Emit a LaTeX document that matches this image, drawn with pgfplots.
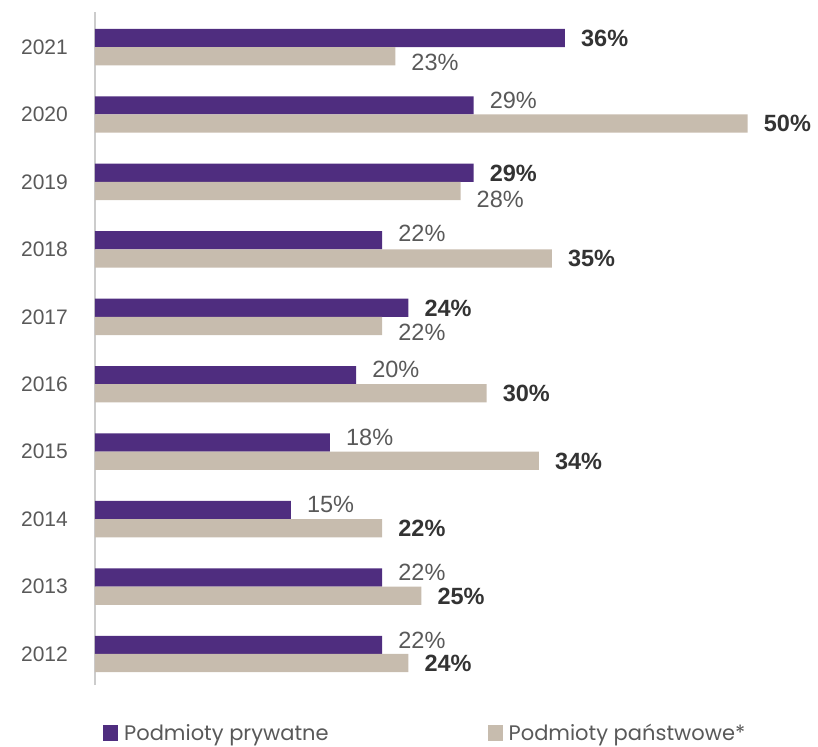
\documentclass[border=0pt]{standalone}
\usepackage{fontspec}
\setmainfont{Liberation Sans}
\newfontfamily\legfont{Poppins}
\usepackage{pgfplots}
\pgfplotsset{compat=1.18}
\definecolor{purp}{HTML}{4F2D7F}
\definecolor{beige}{HTML}{C7BCAE}
\definecolor{labl}{HTML}{595959}
\definecolor{labd}{HTML}{333333}
% light label, raised by #1
\newcommand\lb[2]{\smash{\raisebox{\dimexpr#1-0.36em\relax}{\textcolor{labl}{#2\%}}}}
% bold label
\newcommand\hb[1]{\smash{\raisebox{-0.36em}{\textcolor{labd}{\bfseries #1\%}}}}
\begin{document}
\begin{tikzpicture}
\begin{axis}[
  scale only axis,
  width=718bp, height=673bp,
  xmin=0, xmax=55,
  ymin=-0.46, ymax=9.52,
  axis y line*=left,
  axis x line=none,
  axis line style={draw=black!20, line width=1.3bp},
  ytick={0,1,2,3,4,5,6,7,8,9},
  yticklabels={2012,2013,2014,2015,2016,2017,2018,2019,2020,2021},
  major tick length=0pt,
  ytick style={draw=none},
  yticklabel style={font=\fontsize{21bp}{25bp}\selectfont, text=labl, anchor=east, inner sep=0pt, xshift=-27bp},
  clip=false,
  legend columns=2,
  legend style={at={(0,0)}, anchor=north west, xshift=8bp, yshift=-37bp, draw=none, fill=none,
    font=\legfont\fontsize{21bp}{25bp}\selectfont, text=labl, inner sep=0pt,
    /tikz/every odd column/.append style={column sep=4bp},
    /tikz/every even column/.append style={column sep=157bp}},
  legend cell align=left,
  nodes near coords,
  point meta=explicit symbolic,
]
\coordinate (O) at (rel axis cs:0,0);
\coordinate (T) at (rel axis cs:0,1);
\addplot[xbar, fill=purp, draw=none, bar width=0.27, bar shift=0.135,
  nodes near coords style={anchor=west, inner sep=0pt, xshift=16bp, yshift=9bp, font=\fontsize{23.5bp}{27bp}\selectfont},
  legend image code/.code={\fill[purp] (0bp,-8bp) rectangle (15bp,8bp);}]
coordinates {
 (36,9) [\hb{36}]
 (29,8) [\lb{5bp}{29}]
 (29,7) [\hb{29}]
 (22,6) [\lb{7bp}{22}]
 (24,5) [\hb{24}]
 (20,4) [\lb{6bp}{20}]
 (18,3) [\lb{6bp}{18}]
 (15,2) [\lb{6bp}{15}]
 (22,1) [\lb{6bp}{22}]
 (22,0) [\lb{5bp}{22}]
};
\addlegendentry{Podmioty prywatne}
\addplot[xbar, fill=beige, draw=none, bar width=0.27, bar shift=-0.135,
  nodes near coords style={anchor=west, inner sep=0pt, xshift=16bp, yshift=-9bp, font=\fontsize{23.5bp}{27bp}\selectfont},
  legend image code/.code={\fill[beige] (0bp,-8bp) rectangle (15bp,8bp);}]
coordinates {
 (23,9) [\lb{-6bp}{23}]
 (50,8) [\hb{50}]
 (28,7) [\lb{-8bp}{28}]
 (35,6) [\hb{35}]
 (22,5) [\lb{-6bp}{22}]
 (30,4) [\hb{30}]
 (34,3) [\hb{34}]
 (22,2) [\hb{22}]
 (25,1) [\hb{25}]
 (24,0) [\hb{24}]
};
\addlegendentry{Podmioty państwowe*}
\end{axis}
\pgfresetboundingbox
\path ([xshift=-95bp,yshift=-62bp]O) rectangle ([xshift=723bp,yshift=12bp]T);
\end{tikzpicture}
\end{document}
